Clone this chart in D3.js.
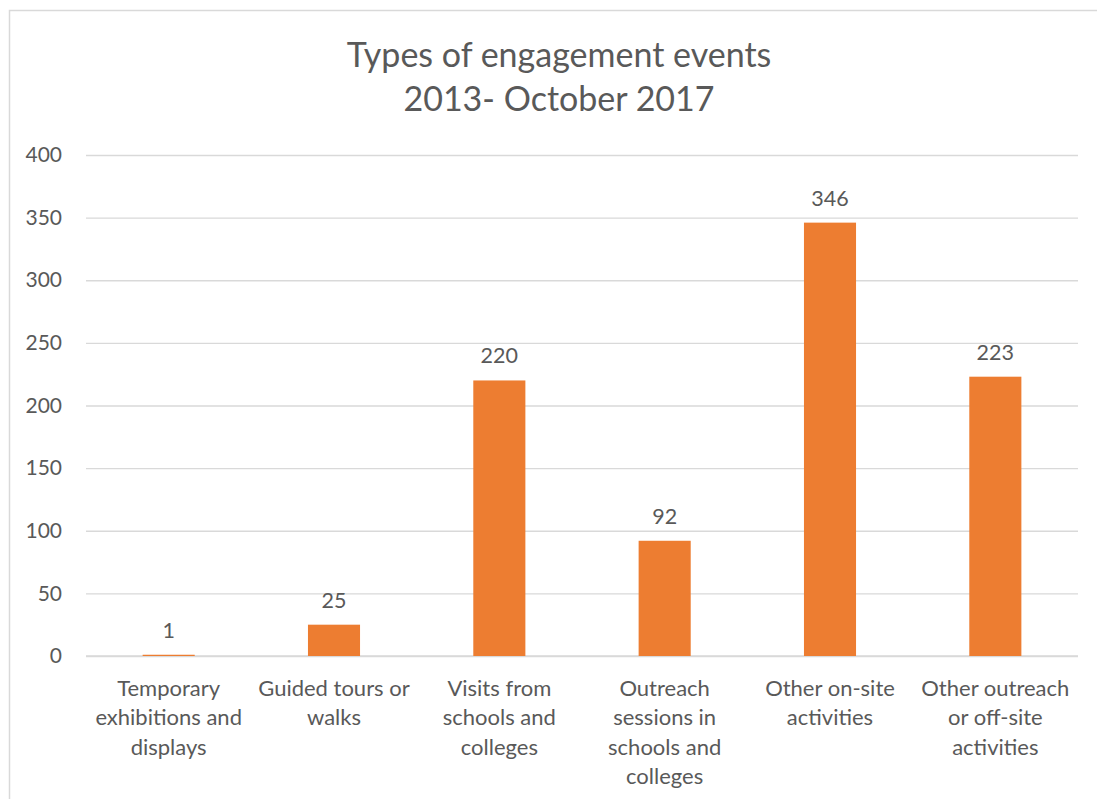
<!DOCTYPE html>
<html>
<head>
<meta charset="utf-8">
<script src="https://cdn.jsdelivr.net/npm/d3@7"></script>
<style>
  html, body { margin: 0; padding: 0; background: #fff; }
  svg { display: block; }
  text { font-family: Lato, "Open Sans", sans-serif; fill: #595959; }
</style>
</head>
<body>
<svg id="chart" width="1097" height="799"></svg>
<script>
const titleLines = ["Types of engagement events", "2013- October 2017"];
const categories = [
  ["Temporary", "exhibitions and", "displays"],
  ["Guided tours or", "walks"],
  ["Visits from", "schools and", "colleges"],
  ["Outreach", "sessions in", "schools and", "colleges"],
  ["Other on-site", "activities"],
  ["Other outreach", "or off-site", "activities"]
];
const values = [1, 25, 220, 92, 346, 223];
const yTicks = [0, 50, 100, 150, 200, 250, 300, 350, 400];

const svg = d3.select("#chart");
const plot = { left: 86, right: 1078, top: 155, bottom: 656 };

// chart border
svg.append("rect")
  .attr("x", 9.5).attr("y", 10.5)
  .attr("width", 1100).attr("height", 800)
  .attr("fill", "#fff").attr("stroke", "#d9d9d9").attr("stroke-width", 1.5);

const x = d3.scaleBand()
  .domain(d3.range(categories.length))
  .range([plot.left, plot.right])
  .padding(0);
const y = d3.scaleLinear().domain([0, 400]).range([plot.bottom, plot.top]);

// title
svg.append("g").selectAll("text").data(titleLines).join("text")
  .attr("x", 559).attr("y", (d, i) => 67 + i * 44)
  .attr("text-anchor", "middle")
  .style("font-size", "34px")
  .text(d => d);

// gridlines
const yAxis = d3.axisLeft(y).tickValues(yTicks).tickSize(-(plot.right - plot.left)).tickPadding(24);
const gy = svg.append("g").attr("transform", `translate(${plot.left},0)`).call(yAxis);
gy.select(".domain").remove();
gy.selectAll(".tick line").attr("stroke", "#d9d9d9").attr("stroke-width", 1.3);
gy.selectAll(".tick text")
  .style("font-size", "21px").style("font-family", "Lato, 'Open Sans', sans-serif")
  .attr("fill", "#595959");

// x baseline
svg.append("line")
  .attr("x1", plot.left).attr("x2", plot.right)
  .attr("y1", y(0)).attr("y2", y(0))
  .attr("stroke", "#d9d9d9").attr("stroke-width", 1.5);

// bars
const barW = x.bandwidth() * 0.315;
svg.append("g").selectAll("rect").data(values).join("rect")
  .attr("x", (d, i) => x(i) + x.bandwidth() / 2 - barW / 2)
  .attr("y", d => y(d))
  .attr("width", barW)
  .attr("height", d => y(0) - y(d))
  .attr("fill", "#ed7d31");

// data labels
svg.append("g").selectAll("text").data(values).join("text")
  .attr("x", (d, i) => x(i) + x.bandwidth() / 2)
  .attr("y", d => y(d) - 17)
  .attr("text-anchor", "middle")
  .style("font-size", "21.5px")
  .text(d => d);

// category labels
const cg = svg.append("g").selectAll("text").data(categories).join("text")
  .attr("text-anchor", "middle")
  .style("font-size", "22px");
cg.each(function(lines, i) {
  d3.select(this).selectAll("tspan").data(lines).join("tspan")
    .attr("x", x(i) + x.bandwidth() / 2)
    .attr("y", (d, j) => 696 + j * 29.3)
    .text(d => d);
});
</script>
</body>
</html>
